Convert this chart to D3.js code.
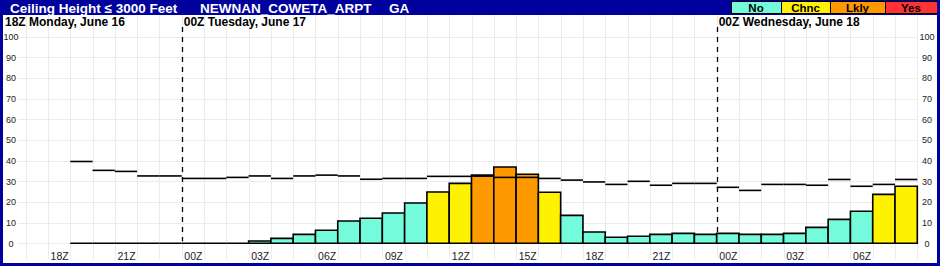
<!DOCTYPE html>
<html>
<head>
  <meta charset="UTF-8">
  <style>
    body { margin: 0; background: #fff; }
    svg { display: block; font-family: "Liberation Sans", Arial, sans-serif; }
  </style>
</head>
<body>
  <svg id="chart" width="940" height="266"></svg>
  <script src="https://d3js.org/d3.v7.min.js"></script>
  <script>
    // hourly values, first bar is 19Z Monday June 16
    var firstHour = new Date(Date.UTC(2025, 5, 16, 19));
    var probValues = [0, 0, 0, 0, 0, 0, 0, 0,
      1.1, 2.4, 4.3, 6.3, 10.8, 12.1, 14.7, 19.5, 24.8, 29.0, 33.0, 36.9, 33.4, 24.7, 13.5, 5.5,
      2.9, 3.4, 4.3, 4.8, 4.3, 4.8, 4.3, 4.3, 4.8, 7.7, 11.6, 15.5, 23.7, 27.6];
    var refValues = [39.6, 35.3, 34.8, 32.6, 32.6, 31.4, 31.4, 31.9,
      32.6, 31.4, 32.6, 33.0, 32.6, 31.0, 31.4, 31.4, 32.4, 32.4, 32.5, 31.9, 31.9, 31.4, 30.6, 29.7,
      28.5, 30.0, 28.1, 29.0, 29.0, 27.1, 25.6, 28.5, 28.5, 28.1, 30.9, 27.6, 28.5, 30.9];
    var catNames = ["No", "Chnc", "Lkly", "Yes"];
    var catColors = ["#74fbdb", "#fff200", "#ff9900", "#ff3333"];
    var catBreaks = [20, 30, 50];
    var dayLabels = ["18Z Monday, June 16", "00Z Tuesday, June 17", "00Z Wednesday, June 18"];
    var dayTimes = [Date.UTC(2025, 5, 16, 18), Date.UTC(2025, 5, 17, 0), Date.UTC(2025, 5, 18, 0)];
    var yTicks = [0, 10, 20, 30, 40, 50, 60, 70, 80, 90, 100];

    var blue = "#00009c";
    var svg = d3.select("#chart");

    var x = d3.scaleUtc()
      .domain([new Date(Date.UTC(2025, 5, 16, 16)), new Date(Date.UTC(2025, 5, 18, 10))])
      .range([3.4, 939.6]);
    var y = d3.scaleLinear().domain([0, 100]).range([243.3, 36.7]);
    var color = d3.scaleThreshold().domain(catBreaks).range(catColors);
    var hourW = x(d3.utcHour.offset(firstHour, 1)) - x(firstHour);

    var data = probValues.map(function(v, i) {
      return {t: d3.utcHour.offset(firstHour, i), v: v, r: refValues[i]};
    });

    // grid
    var gridTimes = d3.utcHour.range(new Date(Date.UTC(2025, 5, 16, 17)), new Date(Date.UTC(2025, 5, 18, 10)));
    svg.append("g").selectAll("line").data(gridTimes).enter().append("line")
      .attr("x1", function(d) { return Math.round(x(d)) + 0.5; })
      .attr("x2", function(d) { return Math.round(x(d)) + 0.5; })
      .attr("y1", 15).attr("y2", 259)
      .attr("stroke", "#ebebeb").attr("stroke-width", 1);
    svg.append("g").selectAll("line").data(yTicks).enter().append("line")
      .attr("x1", 18).attr("x2", 918)
      .attr("y1", function(d) { return Math.round(y(d)) + 0.5; })
      .attr("y2", function(d) { return Math.round(y(d)) + 0.5; })
      .attr("stroke", "#ebebeb").attr("stroke-width", 1);

    // y axes, both sides
    var yl = svg.append("g").attr("transform", "translate(11,0)")
      .call(d3.axisLeft(y).tickValues(yTicks).tickSize(0).tickPadding(0));
    var yr = svg.append("g").attr("transform", "translate(927,0)")
      .call(d3.axisRight(y).tickValues(yTicks).tickSize(0).tickPadding(0));
    [yl, yr].forEach(function(a) {
      a.select(".domain").remove();
      a.selectAll("text").attr("text-anchor", "middle").attr("font-size", 9)
        .attr("fill", "#222").attr("font-family", "Liberation Sans, Arial, sans-serif");
    });

    // x axis labels centred on the hour bar
    var xTicks = d3.utcHour.every(3).range(new Date(Date.UTC(2025, 5, 16, 18)), new Date(Date.UTC(2025, 5, 18, 7)));
    var xa = svg.append("g").attr("transform", "translate(" + (hourW / 2) + ",252.5)")
      .call(d3.axisBottom(x).tickValues(xTicks).tickSize(0).tickPadding(0)
        .tickFormat(d3.utcFormat("%HZ")));
    xa.select(".domain").remove();
    xa.selectAll("text").attr("font-size", 10.5).attr("fill", "#222")
      .attr("font-family", "Liberation Sans, Arial, sans-serif");

    // day separators
    svg.append("g").selectAll("line").data(dayTimes.slice(1)).enter().append("line")
      .attr("x1", function(d) { return Math.round(x(d)) + 0.5; })
      .attr("x2", function(d) { return Math.round(x(d)) + 0.5; })
      .attr("y1", 27).attr("y2", y(0) - 2)
      .attr("stroke", "#000").attr("stroke-width", 1.3).attr("stroke-dasharray", "5,5");

    // bars (path so zero height still draws its edge)
    svg.append("g").selectAll("path").data(data).enter().append("path")
      .attr("d", function(d) {
        var x0 = x(d.t), x1 = x0 + hourW, y0 = y(0), y1 = y(d.v);
        return "M" + x0 + "," + y0 + "V" + y1 + "H" + x1 + "V" + y0 + "Z";
      })
      .attr("fill", function(d) { return d.v > 0 ? color(d.v) : "none"; })
      .attr("stroke", "#000").attr("stroke-width", 1.6);

    // reference step segments
    svg.append("g").selectAll("line").data(data).enter().append("line")
      .attr("x1", function(d) { return x(d.t); })
      .attr("x2", function(d) { return x(d.t) + hourW; })
      .attr("y1", function(d) { return y(d.r); })
      .attr("y2", function(d) { return y(d.r); })
      .attr("stroke", "#000").attr("stroke-width", 1.6);

    // day labels
    svg.append("g").selectAll("text").data(dayLabels).enter().append("text")
      .attr("x", function(d, i) { return i == 0 ? 5 : x(dayTimes[i]) + 2; })
      .attr("y", 26)
      .attr("font-size", 12).attr("font-weight", "bold").attr("fill", "#000")
      .text(function(d) { return d; });

    // header
    svg.append("rect").attr("x", 0).attr("y", 0).attr("width", 940).attr("height", 15).attr("fill", blue);
    svg.append("text").attr("x", 10).attr("y", 12.5).attr("font-size", 13.5).attr("font-weight", "bold")
      .attr("fill", "#fff").text("Ceiling Height \u2264 3000 Feet");
    svg.append("text").attr("x", 200).attr("y", 12.5).attr("font-size", 13.5).attr("font-weight", "bold")
      .attr("fill", "#fff").text("NEWNAN_COWETA_ARPT");
    svg.append("text").attr("x", 389).attr("y", 12.5).attr("font-size", 13.5).attr("font-weight", "bold")
      .attr("fill", "#fff").text("GA");

    // legend boxes
    var legX = [731, 781, 830, 885, 937];
    var leg = svg.append("g").selectAll("g").data(catNames).enter().append("g");
    leg.append("rect")
      .attr("x", function(d, i) { return legX[i] + 0.5; })
      .attr("y", 1.5)
      .attr("width", function(d, i) { return legX[i + 1] - legX[i]; })
      .attr("height", 12)
      .attr("fill", function(d, i) { return catColors[i]; })
      .attr("stroke", "#000").attr("stroke-width", 1);
    leg.append("text")
      .attr("x", function(d, i) { return (legX[i] + legX[i + 1]) / 2; })
      .attr("y", 12)
      .attr("text-anchor", "middle").attr("font-size", 11.5).attr("font-weight", "bold")
      .attr("fill", "#000").text(function(d) { return d; });

    // outer frame
    svg.append("rect").attr("x", 0).attr("y", 0).attr("width", 3).attr("height", 266).attr("fill", blue);
    svg.append("rect").attr("x", 937).attr("y", 0).attr("width", 3).attr("height", 266).attr("fill", blue);
    svg.append("rect").attr("x", 0).attr("y", 263).attr("width", 940).attr("height", 3).attr("fill", blue);
  </script>
</body>
</html>
